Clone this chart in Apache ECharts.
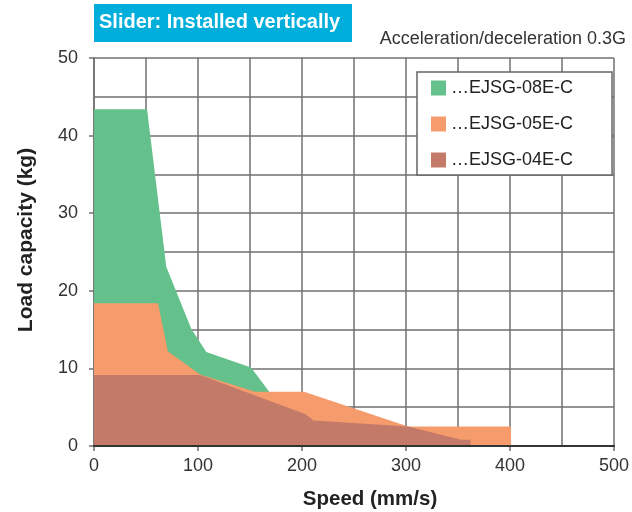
<!DOCTYPE html>
<html>
<head>
<meta charset="utf-8">
<title>Slider: Installed vertically</title>
<script src="https://cdn.jsdelivr.net/npm/echarts@6/dist/echarts.min.js"></script>
<style>
  html, body { margin: 0; padding: 0; background: #fff; }
  #chart { width: 632px; height: 512px; }
</style>
</head>
<body>
<div id="chart"></div>
<script>
'use strict';

// 系列名称 / 颜色
var seriesNames = ['…EJSG-08E-C', '…EJSG-05E-C', '…EJSG-04E-C'];
var seriesColors = ['#64C18C', '#F59B6C', '#C47A69'];

// speed (mm/s) -> load capacity (kg)
var speed08 = [0, 51, 69.5, 93.5, 108, 151, 168.5, 171];
var load08  = [43.4, 43.4, 23.1, 15.1, 12.1, 10.1, 7.0, 0];

var speed05 = [0, 61.6, 71, 102, 155, 202, 302, 401, 401];
var load05  = [18.4, 18.4, 12.2, 9.2, 7.0, 7.0, 2.5, 2.5, 0];

var speed04 = [0, 102, 203.5, 211, 302, 353, 362, 362];
var load04  = [9.15, 9.15, 4.1, 3.3, 2.5, 0.8, 0.8, 0];

// tick labels
var speedTicks = [0, 100, 200, 300, 400, 500];
var loadTicks = [0, 10, 20, 30, 40, 50];

function pairs(xs, ys) {
  var out = [];
  for (var i = 0; i < xs.length; i++) {
    out.push([xs[i], ys[i]]);
  }
  return out;
}

var speeds = [speed08, speed05, speed04];
var loads = [load08, load05, load04];

var series = [];
for (var i = 0; i < seriesNames.length; i++) {
  series.push({
    name: seriesNames[i],
    type: 'line',
    data: pairs(speeds[i], loads[i]),
    color: seriesColors[i],
    symbol: 'none',
    lineStyle: { width: 0 },
    areaStyle: { color: seriesColors[i], opacity: 1 },
    z: 2 + i
  });
}

var gridLine = { color: '#707070', width: 1.5 };
var font = 'Liberation Sans, Arial, sans-serif';

var myChart = echarts.init(document.getElementById('chart'));

var option = {
  animation: false,
  backgroundColor: '#fff',
  grid: { left: 94, right: 12, top: 58, bottom: 66 },
  legend: {
    orient: 'vertical',
    left: 417,
    top: 72,
    padding: [7, 39, 6, 14],
    itemWidth: 15,
    itemHeight: 15,
    itemGap: 18,
    icon: 'rect',
    backgroundColor: '#fff',
    borderColor: '#666',
    borderWidth: 1.5,
    textStyle: { fontFamily: font, fontSize: 18, color: '#222', lineHeight: 18 },
    data: seriesNames
  },
  xAxis: [
    {
      type: 'value',
      min: speedTicks[0],
      max: speedTicks[speedTicks.length - 1],
      interval: speedTicks[1] - speedTicks[0],
      axisLine: { show: true, lineStyle: { color: '#333', width: 2 } },
      axisTick: { show: true, length: 5, lineStyle: { color: '#707070', width: 1.5 } },
      axisLabel: { margin: 11, fontFamily: font, fontSize: 18, color: '#333' },
      splitLine: { show: true, lineStyle: gridLine },
      minorTick: { show: false, splitNumber: 2 },
      minorSplitLine: { show: true, lineStyle: gridLine }
    },
    {
      // 只画底部轴线，盖在面积图上面
      type: 'value',
      position: 'bottom',
      min: speedTicks[0],
      max: speedTicks[speedTicks.length - 1],
      z: 10,
      axisLine: { show: true, onZero: false, lineStyle: { color: '#333', width: 2 } },
      axisTick: { show: false },
      axisLabel: { show: false },
      splitLine: { show: false }
    }
  ],
  yAxis: {
    type: 'value',
    min: loadTicks[0],
    max: loadTicks[loadTicks.length - 1],
    interval: loadTicks[1] - loadTicks[0],
    axisLine: { show: true, lineStyle: { color: '#707070', width: 1.5 } },
    axisTick: { show: true, length: 5, lineStyle: { color: '#707070', width: 1.5 } },
    axisLabel: { margin: 16, fontFamily: font, fontSize: 18, color: '#333' },
    splitLine: { show: true, lineStyle: gridLine },
    minorTick: { show: false, splitNumber: 2 },
    minorSplitLine: { show: true, lineStyle: gridLine }
  },
  graphic: [
    {
      type: 'rect',
      left: 94,
      top: 4,
      shape: { width: 258, height: 38 },
      style: { fill: '#00AEDB' }
    },
    {
      type: 'text',
      x: 99,
      y: 22,
      style: {
        text: 'Slider: Installed vertically',
        font: 'bold 20px "Liberation Sans", Arial, sans-serif',
        fill: '#fff',
        verticalAlign: 'middle'
      }
    },
    {
      type: 'text',
      x: 626,
      y: 39,
      style: {
        text: 'Acceleration/deceleration 0.3G',
        font: '18px "Liberation Sans", Arial, sans-serif',
        fill: '#333',
        align: 'right',
        verticalAlign: 'middle'
      }
    },
    {
      type: 'text',
      x: 26,
      y: 240,
      rotation: Math.PI / 2,
      style: {
        text: 'Load capacity (kg)',
        font: 'bold 21px "Liberation Sans", Arial, sans-serif',
        fill: '#222',
        align: 'center',
        verticalAlign: 'middle'
      }
    },
    {
      type: 'text',
      x: 370,
      y: 499,
      style: {
        text: 'Speed (mm/s)',
        font: 'bold 20.5px "Liberation Sans", Arial, sans-serif',
        fill: '#222',
        align: 'center',
        verticalAlign: 'middle'
      }
    }
  ],
  series: series
};

myChart.setOption(option);
</script>
</body>
</html>
